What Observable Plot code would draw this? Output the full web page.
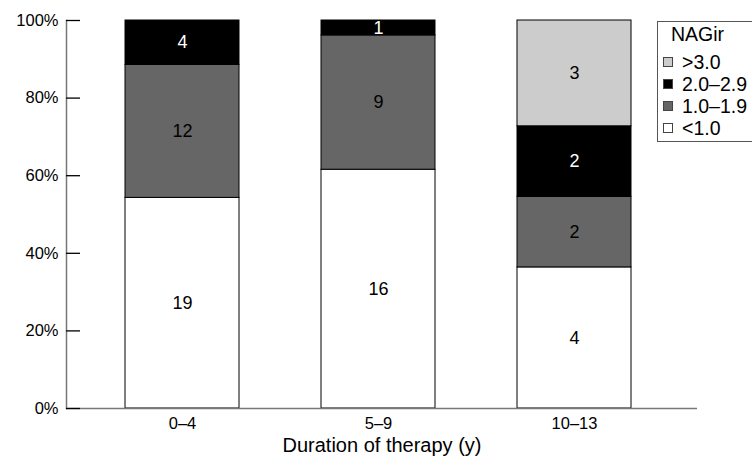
<!DOCTYPE html>
<html>
<head>
<meta charset="utf-8">
<script src="https://cdn.jsdelivr.net/npm/d3@7"></script>
<script src="https://cdn.jsdelivr.net/npm/@observablehq/plot@0.6"></script>
<style>
  html, body { margin: 0; padding: 0; background: #fff; }
  #wrap { position: relative; width: 752px; height: 461px; overflow: hidden; font-family: "Liberation Sans", Arial, sans-serif; }
  #legend { position: absolute; left: 657px; top: 21px; width: 110px; height: 121px; border: 1px solid #555; background: #fff; box-sizing: border-box; padding: 0 0 0 5px; font-size: 19.5px; line-height: 22px; color: #000; }
  #legend .title { padding-left: 8px; margin-bottom: 6px; margin-top: 1px; }
  #legend .item { display: flex; align-items: center; }
  #legend .sw { width: 10px; height: 10px; border: 1px solid #444; margin-right: 9px; box-sizing: border-box; }
</style>
</head>
<body>
<div id="wrap"></div>
<script>
const groups = ["0–4", "5–9", "10–13"];
const categories = ["<1.0", "1.0–1.9", "2.0–2.9", ">3.0"];
const colors = ["#ffffff", "#666666", "#000000", "#cccccc"];
const countsLt1 = [19, 16, 4];
const counts1to19 = [12, 9, 2];
const counts2to29 = [4, 1, 2];
const countsGt3 = [0, 0, 3];
const yTicks = [0, 0.2, 0.4, 0.6, 0.8, 1];
const xTitle = "Duration of therapy (y)";

const series = [countsLt1, counts1to19, counts2to29, countsGt3];
const rows = [];
groups.forEach((g, gi) => {
  categories.forEach((c, ci) => {
    const v = series[ci][gi];
    if (v > 0) rows.push({group: g, cat: c, count: v});
  });
});

const stackOpts = {offset: "normalize", order: null};
const chart = Plot.plot({
  width: 752,
  height: 461,
  marginLeft: 66,
  marginRight: 55,
  marginTop: 20,
  marginBottom: 53,
  style: {fontFamily: "'Liberation Sans', Arial, sans-serif", background: "#fff"},
  x: {domain: groups, paddingInner: 0.416, paddingOuter: 0.31, align: 0.47, label: null},
  y: {domain: [0, 1], label: null},
  color: {domain: categories, range: colors},
  marks: [
    Plot.barY(rows, Plot.stackY(stackOpts, {x: "group", y: "count", fill: "cat", stroke: "#000", strokeWidth: 1})),
    Plot.text(rows, Plot.stackY(stackOpts, {x: "group", y: "count", text: d => d.cat === "2.0–2.9" ? null : String(d.count), fill: "#000", fontSize: 18})),
    Plot.text(rows, Plot.stackY(stackOpts, {x: "group", y: "count", text: d => d.cat === "2.0–2.9" ? String(d.count) : null, fill: "#fff", fontSize: 18})),
    Plot.ruleY([0], {stroke: "#777", strokeWidth: 1.5}),
    Plot.frame({anchor: "left", stroke: "#777", strokeWidth: 1.5}),
    Plot.axisY({ticks: yTicks, tickFormat: d3.format(".0%"), tickSize: -14, tickPadding: 22, fontSize: 16.5, stroke: "#000", strokeWidth: 1.3, label: null, color: "#000"}),
    Plot.axisX({tickSize: 0, tickPadding: 9, fontSize: 16.5, label: null, color: "#000"}),
    Plot.text([xTitle], {frameAnchor: "bottom", dy: 43, fontSize: 20, fill: "#000"})
  ]
});
const wrap = document.getElementById("wrap");
wrap.appendChild(chart);

const legend = document.createElement("div");
legend.id = "legend";
let html = '<div class="title">NAGir</div>';
for (let i = categories.length - 1; i >= 0; i--) {
  html += `<div class="item"><span class="sw" style="background:${colors[i]}"></span>${categories[i]}</div>`;
}
legend.innerHTML = html;
wrap.appendChild(legend);
</script>
</body>
</html>
